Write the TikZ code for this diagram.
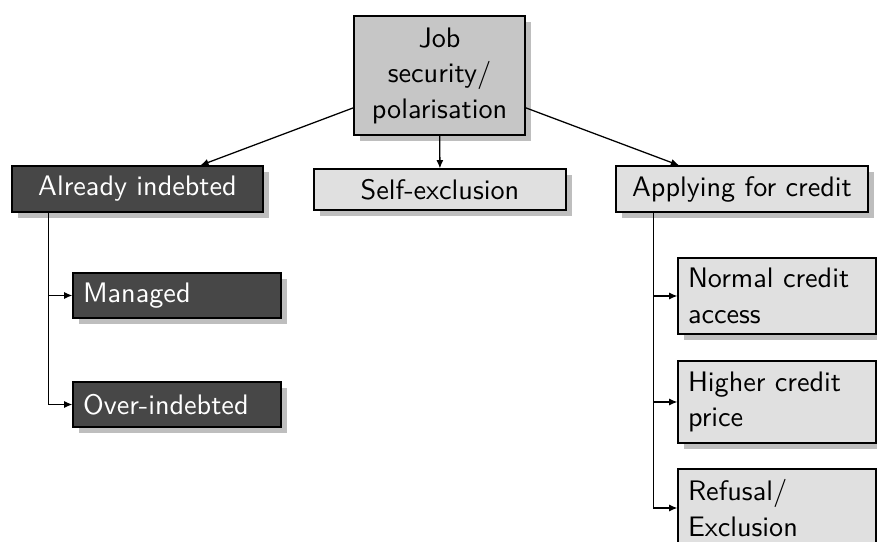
\documentclass[tikz,border=0pt]{standalone}
\usetikzlibrary{shadows,calc,arrows.meta}
\definecolor{boxdark}{HTML}{474747}
\definecolor{boxlight}{HTML}{E0E0E0}
\definecolor{boxmid}{HTML}{C6C6C6}
\definecolor{shadegray}{HTML}{BEBEBE}
\newcommand{\pxu}{0.3546pt}
\begin{document}
\begin{tikzpicture}[x=0.3546pt,y=-0.3546pt,
  font=\sffamily\fontsize{10}{12.6}\selectfont,
  box/.style={draw=black, line width=0.45pt, inner ysep=0pt,
    drop shadow={shadow xshift=2.2pt, shadow yshift=-2.2pt, fill=shadegray, opacity=1}},
  darkbox/.style={box, fill=boxdark, text=white},
  lightbox/.style={box, fill=boxlight},
  midbox/.style={box, fill=boxmid},
  leftbox/.style={inner xsep=10*\pxu, align=left, text width=188*\pxu, minimum width=208*\pxu},
  conn/.style={line width=0.45pt, -{Latex[length=2.9pt,width=2.5pt]}}]
\useasboundingbox (0,0) rectangle (877,542);
\clip (0,0) rectangle (877,542);

\node[midbox, minimum width=171*\pxu, minimum height=119*\pxu, text width=150*\pxu, inner xsep=0pt, align=center] (job) at (439.5,75.5) {Job\\security/\\polarisation};

\node[darkbox, minimum width=251*\pxu, minimum height=46*\pxu] (already) at (137.5,189) {Already indebted};
\node[lightbox, minimum width=252*\pxu, minimum height=41*\pxu] (self) at (440,189.5) {Self-exclusion};
\node[lightbox, minimum width=252*\pxu, minimum height=46*\pxu] (apply) at (742,189) {Applying for credit};

\node[darkbox, leftbox, minimum height=45*\pxu] (managed) at (177,295.5) {Managed};
\node[darkbox, leftbox, minimum height=45*\pxu] (over) at (177,404.5) {Over-indebted};

\node[lightbox, leftbox, minimum width=198*\pxu, text width=178*\pxu, minimum height=76*\pxu] (normal) at (777,296) {Normal credit\\access};
\node[lightbox, leftbox, minimum width=198*\pxu, text width=178*\pxu, minimum height=82*\pxu] (higher) at (777,402) {Higher credit\\price};
\node[lightbox, leftbox, minimum width=198*\pxu, text width=178*\pxu, minimum height=78*\pxu] (refusal) at (777,508) {Refusal/\\Exclusion};

\draw[conn] (job) -- (already);
\draw[conn] (job) -- (self);
\draw[conn] (job) -- (apply);

\coordinate (lt) at ($(already.south west)+(37,0)$);
\draw[conn] (lt) |- (managed.west);
\draw[conn] (lt) |- (over.west);

\coordinate (rt) at ($(apply.south west)+(38,0)$);
\draw[conn] (rt) |- (normal.west);
\draw[conn] (rt) |- (higher.west);
\draw[conn] (rt) |- (refusal.west);
\end{tikzpicture}
\end{document}
